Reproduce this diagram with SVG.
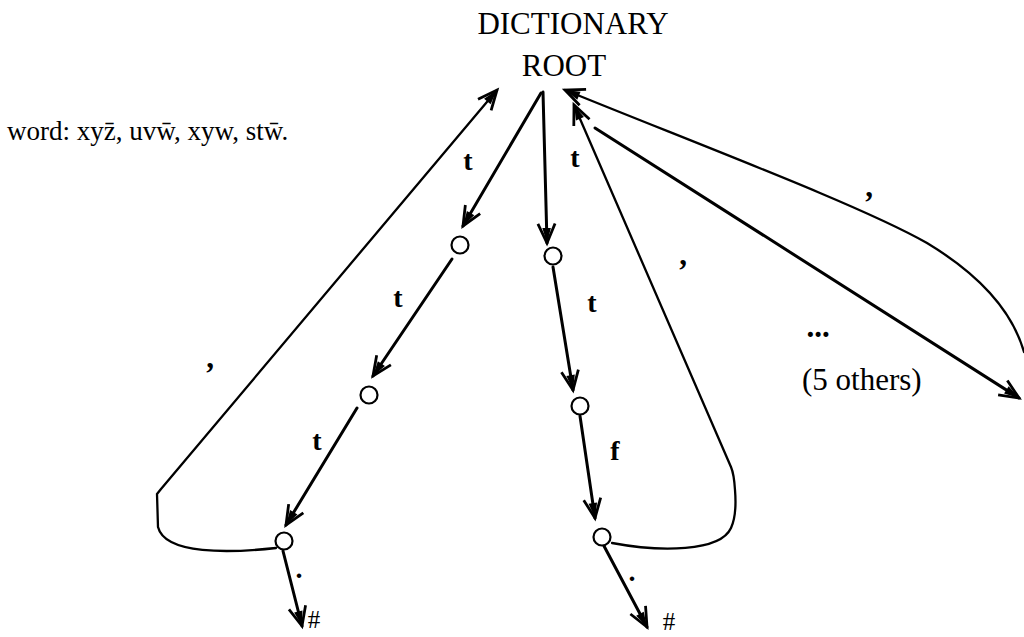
<svg xmlns="http://www.w3.org/2000/svg" width="1024" height="637" viewBox="0 0 1024 637">
<style>
.t{font-family:"Liberation Serif","Times New Roman",serif;fill:#000}
.b{font-weight:bold}
.ln{fill:none;stroke:#000;stroke-width:3;stroke-linecap:round;stroke-linejoin:round}
.lp{fill:none;stroke:#000;stroke-width:2.3;stroke-linecap:round;stroke-linejoin:round}
.nd{fill:#fff;stroke:#000;stroke-width:2.2}
</style>
<defs>
<marker id="ah" markerUnits="userSpaceOnUse" orient="auto" refX="0" refY="0" markerWidth="30" markerHeight="30" viewBox="-24 -12 28 24" overflow="visible">
<path d="M-18,-8 L0,0 L-18,8" fill="none" stroke="#000" stroke-width="2.6" stroke-linejoin="miter"/>
<path d="M-14,-4 L0,0 L-14,4 Z" fill="#000"/>
</marker>
</defs>
<g id="title">
<text class="t" x="573" y="34" font-size="31" text-anchor="middle">DICTIONARY</text>
</g>
<g id="root">
<text class="t" x="564" y="76" font-size="31" text-anchor="middle">ROOT</text>
</g>
<g id="legend">
<text class="t" x="7" y="140" font-size="27">word: xyz̄, uvw̄, xyw, stw̄.</text>
</g>
<g id="connectors">
<path class="ln" d="M541,93 L463,226" marker-end="url(#ah)"/>
<path class="ln" d="M452,259 L373,376" marker-end="url(#ah)"/>
<path class="ln" d="M357,408 L286,525" marker-end="url(#ah)"/>
<path class="ln" d="M543,92 L547,243" marker-end="url(#ah)"/>
<path class="ln" d="M553,267 L573,390" marker-end="url(#ah)"/>
<path class="ln" d="M580,416 L595,518" marker-end="url(#ah)"/>
<path class="ln" d="M283,551 L302,626" marker-end="url(#ah)"/>
<path class="ln" d="M604,546 L647,627" marker-end="url(#ah)"/>
<path class="lp" d="M276,548 C230,553 165,555 158,527 L157,494 L161,489 L497,90" marker-end="url(#ah)"/>
<path class="lp" d="M612,543 C660,552 720,552 731,528 Q737,515 735,490 Q734,474 731,467 L574,105" marker-end="url(#ah)"/>
<path class="ln" d="M595,128 L1019,398" marker-end="url(#ah)"/>
<path class="lp" d="M1024,352 C1012,310 980,275 927,243 C860,205 700,145 565,90" marker-end="url(#ah)"/>
</g>
<g id="n1"><circle class="nd" cx="460" cy="245" r="8.5"/></g>
<g id="n2"><circle class="nd" cx="369" cy="395" r="8.5"/></g>
<g id="n3"><circle class="nd" cx="284" cy="541" r="8.5"/></g>
<g id="nA"><circle class="nd" cx="553" cy="256" r="8.5"/></g>
<g id="nB"><circle class="nd" cx="580" cy="406" r="8.5"/></g>
<g id="nC"><circle class="nd" cx="602" cy="537" r="8.5"/></g>
<g id="labels">
<text class="t b" x="468" y="170" font-size="28" text-anchor="middle">t</text>
<text class="t b" x="398" y="307" font-size="28" text-anchor="middle">t</text>
<text class="t b" x="317" y="450" font-size="28" text-anchor="middle">t</text>
<text class="t b" x="575" y="167" font-size="28" text-anchor="middle">t</text>
<text class="t b" x="592" y="312" font-size="28" text-anchor="middle">t</text>
<text class="t b" x="615" y="460" font-size="28" text-anchor="middle">f</text>
<text class="t b" x="210" y="368" font-size="31" text-anchor="middle">,</text>
<text class="t b" x="683" y="265" font-size="31" text-anchor="middle">,</text>
<text class="t b" x="869" y="197" font-size="31" text-anchor="middle">,</text>
<text class="t b" x="299" y="578" font-size="28" text-anchor="middle">.</text>
<text class="t b" x="632" y="581" font-size="28" text-anchor="middle">.</text>
<text class="t" x="314" y="628" font-size="25" text-anchor="middle">#</text>
<text class="t" x="669" y="630" font-size="25" text-anchor="middle">#</text>
<text class="t b" x="818" y="337" font-size="31" text-anchor="middle">...</text>
<text class="t" x="802" y="390" font-size="31">(5 others)</text>
</g>
</svg>
